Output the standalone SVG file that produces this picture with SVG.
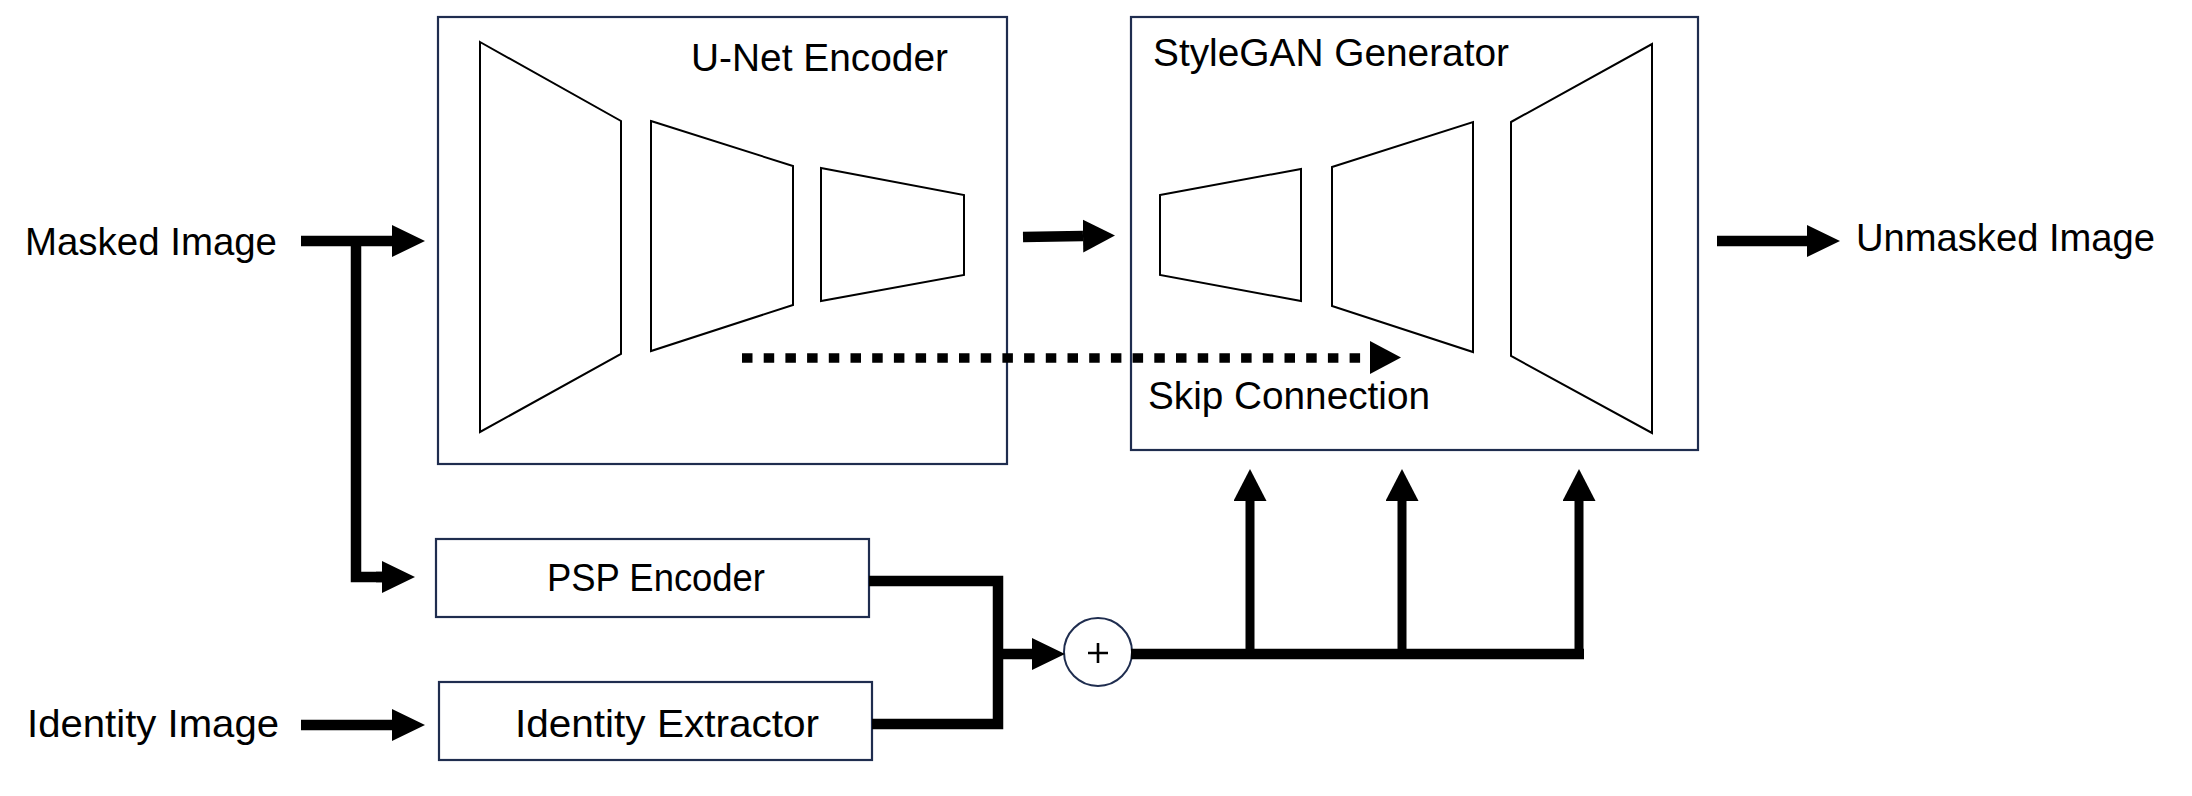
<svg xmlns="http://www.w3.org/2000/svg" width="2192" height="796" viewBox="0 0 2192 796">
<style>
.box{fill:#fff;stroke:#1f2d4f;stroke-width:2.2}
.trap{fill:#fff;stroke:#000;stroke-width:2}
.lbl{font-family:"Liberation Sans",Arial,sans-serif;font-size:38.5px;fill:#000}
.thick{fill:none;stroke:#000;stroke-width:10.5;stroke-linejoin:miter}
.shaft{fill:none;stroke:#000;stroke-width:9}
</style>
<defs>
<marker id="ah" markerUnits="userSpaceOnUse" markerWidth="34" markerHeight="34" refX="0" refY="16" orient="auto" viewBox="0 0 34 34">
<path d="M0,0 L33,16 L0,32 z" fill="#000"/>
</marker>
<marker id="ahs" markerUnits="userSpaceOnUse" markerWidth="34" markerHeight="34" refX="0" refY="16.5" orient="auto" viewBox="0 0 34 34">
<path d="M0,0 L32,16.5 L0,33 z" fill="#000"/>
</marker>
</defs>
<rect width="2192" height="796" fill="#fff"/>

<g id="unet">
<rect class="box" x="438" y="17" width="569" height="447"/>
<polygon class="trap" points="480,42 621,121 621,354 480,432"/>
<polygon class="trap" points="651,121 793,166 793,305 651,351"/>
<polygon class="trap" points="821,168 964,195 964,275 821,301"/>
<text class="lbl" x="691" y="71" textLength="257" lengthAdjust="spacingAndGlyphs">U-Net Encoder</text>
</g>

<g id="stylegan">
<rect class="box" x="1131" y="17" width="567" height="433"/>
<polygon class="trap" points="1160,195 1301,169 1301,301 1160,275"/>
<polygon class="trap" points="1332,167 1473,122 1473,352 1332,306"/>
<polygon class="trap" points="1511,122 1652,44 1652,433 1511,356"/>
<text class="lbl" x="1153" y="66" textLength="356" lengthAdjust="spacingAndGlyphs">StyleGAN Generator</text>
</g>

<g id="psp">
<rect class="box" x="436" y="539" width="433" height="78"/>
<text class="lbl" x="547" y="591" textLength="218" lengthAdjust="spacingAndGlyphs">PSP Encoder</text>
</g>

<g id="identity-extractor">
<rect class="box" x="439" y="682" width="433" height="78"/>
<text class="lbl" x="515" y="737" textLength="304" lengthAdjust="spacingAndGlyphs">Identity Extractor</text>
</g>

<g id="plus">
<circle cx="1098" cy="652" r="34" fill="#fff" stroke="#1f2d4f" stroke-width="2"/>
<path d="M1088,653 H1108 M1098,643 V663" stroke="#000" stroke-width="2.6" fill="none"/>
</g>

<g id="masked-image">
<text class="lbl" x="25" y="255" textLength="252" lengthAdjust="spacingAndGlyphs">Masked Image</text>
</g>
<g id="identity-image">
<text class="lbl" x="27" y="737" textLength="252" lengthAdjust="spacingAndGlyphs">Identity Image</text>
</g>
<g id="unmasked-image">
<text class="lbl" x="1856" y="251" textLength="299" lengthAdjust="spacingAndGlyphs">Unmasked Image</text>
</g>
<g id="skip-label">
<text class="lbl" x="1148" y="409" textLength="282" lengthAdjust="spacingAndGlyphs">Skip Connection</text>
</g>

<g id="connectors">
<line class="thick" x1="301" y1="241" x2="392" y2="241" marker-end="url(#ah)"/>
<path class="thick" d="M356,241 V582 M350.75,577 H382" />
<line class="thick" x1="376" y1="577" x2="382" y2="577" marker-end="url(#ah)"/>
<line class="thick" x1="301" y1="725" x2="392" y2="725" marker-end="url(#ah)"/>
<line class="thick" x1="1023" y1="237" x2="1083" y2="236" marker-end="url(#ahs)"/>
<line class="thick" x1="1717" y1="241" x2="1807" y2="241" marker-end="url(#ah)"/>
<path class="thick" d="M869,581 H998 V724 H872"/>
<line class="thick" x1="998" y1="654" x2="1032" y2="654" marker-end="url(#ah)"/>
<path class="thick" d="M1131,654 H1584"/>
<line class="shaft" x1="1250" y1="654" x2="1250" y2="501" marker-end="url(#ahs)"/>
<line class="shaft" x1="1402" y1="654" x2="1402" y2="501" marker-end="url(#ahs)"/>
<line class="shaft" x1="1579" y1="659" x2="1579" y2="501" marker-end="url(#ahs)"/>
<line x1="742" y1="358" x2="1370" y2="358" stroke="#000" stroke-width="9.3" stroke-dasharray="10.5 11.2"/>
<polygon points="1370,341 1401,357.5 1370,374" fill="#000"/>
</g>
</svg>
